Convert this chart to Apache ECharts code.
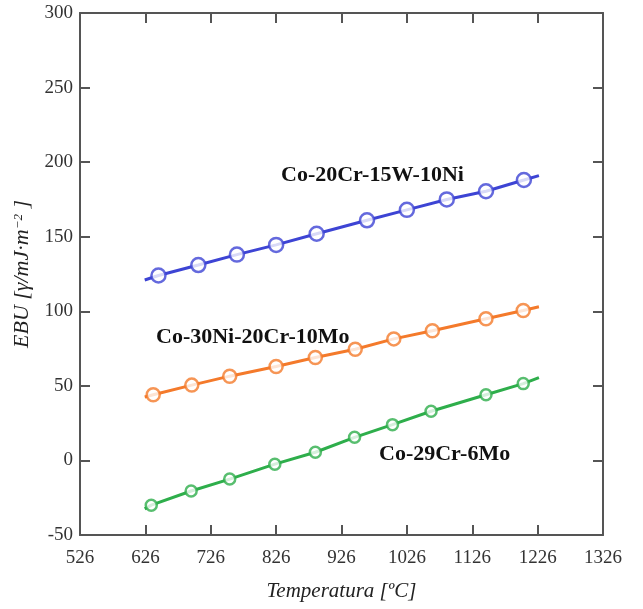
<!DOCTYPE html>
<html>
<head>
<meta charset="utf-8">
<script src="https://cdn.jsdelivr.net/npm/echarts@6/dist/echarts.min.js"></script>
<style>
  html, body { margin: 0; padding: 0; background: #fff; }
  #chart { width: 643px; height: 609px; }
</style>
</head>
<body>
<div id="chart"></div>
<script>
// x axis starts at 526, ticks every 100 -> plot against (T - T0)
const T0 = 526;
const xMax = 1326;
const yMin = -50;
const yMax = 300;

const seriesNames = ['Co-20Cr-15W-10Ni', 'Co-30Ni-20Cr-10Mo', 'Co-29Cr-6Mo'];
const colors = ['#3d44d4', '#f47a2b', '#2eae4b'];
const markerSizes = [14, 13, 11];

// measured points
const blueT = [646, 707, 766, 826, 888, 965, 1026, 1087, 1147, 1205];
const blueEBU = [124, 131, 138, 144.5, 152, 161, 168, 175, 180.5, 188];
const orangeT = [638, 697, 755, 826, 886, 947, 1006, 1065, 1147, 1204];
const orangeEBU = [44, 50.5, 56.5, 63, 69, 74.5, 81.5, 87, 95, 100.5];
const greenT = [635, 696, 755, 824, 886, 946, 1004, 1063, 1147, 1204];
const greenEBU = [-30, -20.5, -12.5, -2.5, 5.5, 15.5, 24, 33, 44, 51.5];

// line start / end
const lineT = [625, 1228];
const blueLine = [121, 191];
const orangeLine = [42.5, 103];
const greenLine = [-32.5, 55.5];

const pointT = [blueT, orangeT, greenT];
const pointEBU = [blueEBU, orangeEBU, greenEBU];
const lineEBU = [blueLine, orangeLine, greenLine];

const chart = echarts.init(document.getElementById('chart'));

const serif = 'Liberation Serif';
const axisColor = '#555';

const series = [];
seriesNames.forEach((name, i) => {
  const pts = pointT[i].map((t, k) => [t - T0, pointEBU[i][k]]);
  const linePts = [[lineT[0] - T0, lineEBU[i][0]], ...pts, [lineT[1] - T0, lineEBU[i][1]]];
  series.push({
    name: name,
    type: 'line',
    data: linePts,
    showSymbol: false,
    symbol: 'none',
    lineStyle: { color: colors[i], width: 3 },
    z: 2,
  });
  series.push({
    name: name,
    type: 'scatter',
    data: pts,
    symbol: 'circle',
    symbolSize: markerSizes[i],
    itemStyle: { color: '#fff', borderColor: colors[i], borderWidth: 2.5 },
    z: 3,
  });
});

const labelStyle = { fontFamily: serif, fontWeight: 'bold', fontSize: 22, fill: '#111' };

const frameLine = { onZero: false, lineStyle: { color: axisColor, width: 2 } };
const frameTick = { inside: true, length: 10, lineStyle: { color: axisColor, width: 2 } };

const option = {
  animation: false,
  grid: { left: 80, top: 13, right: 40, bottom: 74, containLabel: false },
  xAxis: [
    {
      type: 'value',
      min: 0,
      max: xMax - T0,
      interval: 100,
      position: 'bottom',
      name: 'Temperatura [ºC]',
      nameLocation: 'middle',
      nameGap: 46,
      nameTextStyle: { fontFamily: serif, fontStyle: 'italic', fontSize: 21, color: '#222' },
      axisLine: frameLine,
      axisTick: frameTick,
      axisLabel: {
        margin: 14,
        fontFamily: serif,
        fontSize: 19,
        color: '#333',
        formatter: (v) => String(v + T0),
      },
      splitLine: { show: false },
    },
    {
      type: 'value',
      min: 0,
      max: xMax - T0,
      interval: 100,
      position: 'top',
      axisLine: frameLine,
      axisTick: frameTick,
      axisLabel: { show: false },
      splitLine: { show: false },
    },
  ],
  yAxis: [
    {
      type: 'value',
      min: yMin,
      max: yMax,
      interval: 50,
      position: 'left',
      name: '{a|EBU [γ/mJ·m}{s|−2}{a| ]}',
      nameLocation: 'middle',
      nameRotate: 90,
      nameGap: 44,
      nameTextStyle: {
        rich: {
          a: { fontFamily: serif, fontStyle: 'italic', fontSize: 22, color: '#222' },
          s: { fontFamily: serif, fontStyle: 'italic', fontSize: 13, color: '#222', verticalAlign: 'top' },
        },
      },
      axisLine: frameLine,
      axisTick: frameTick,
      axisLabel: { margin: 7, fontFamily: serif, fontSize: 19, color: '#333' },
      splitLine: { show: false },
    },
    {
      type: 'value',
      min: yMin,
      max: yMax,
      interval: 50,
      position: 'right',
      axisLine: frameLine,
      axisTick: frameTick,
      axisLabel: { show: false },
      splitLine: { show: false },
    },
  ],
  graphic: [
    { type: 'text', left: 281, top: 164, style: Object.assign({ text: seriesNames[0] }, labelStyle) },
    { type: 'text', left: 156, top: 326, style: Object.assign({ text: seriesNames[1] }, labelStyle) },
    { type: 'text', left: 379, top: 443, style: Object.assign({ text: seriesNames[2] }, labelStyle) },
  ],
  series: series,
};

chart.setOption(option);
</script>
</body>
</html>
